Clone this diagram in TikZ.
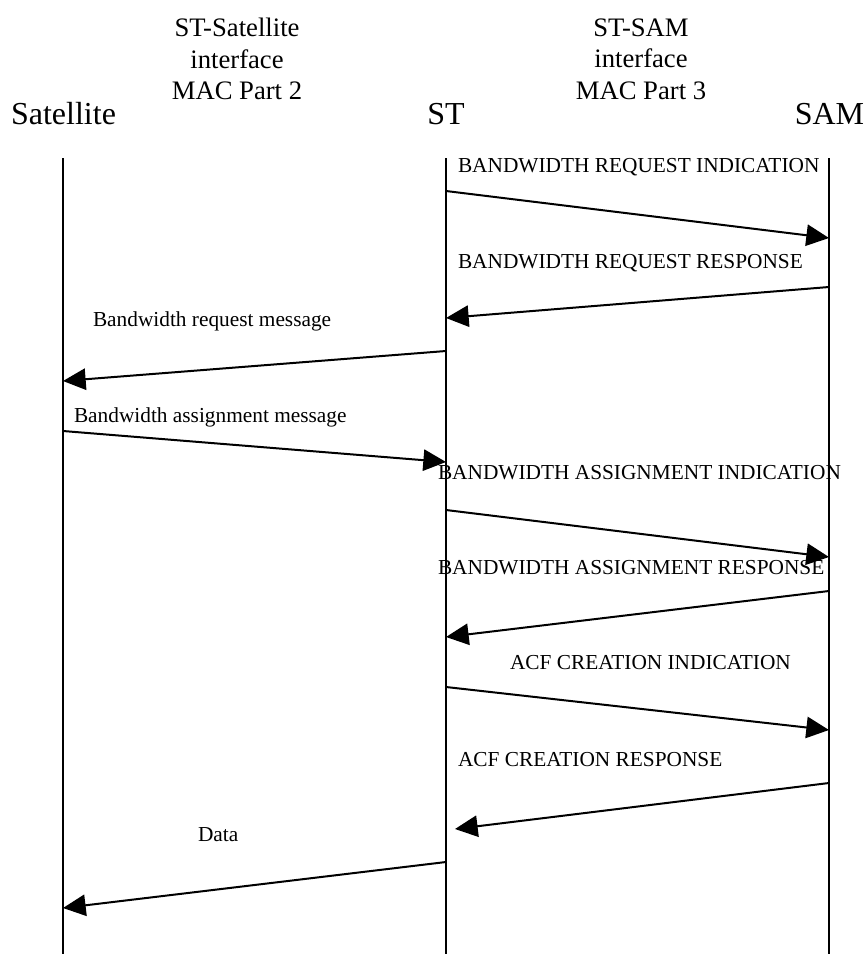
\documentclass[tikz,border=0pt]{standalone}
\usepackage{fontspec}
\setmainfont{Liberation Serif}
\usetikzlibrary{arrows.meta}
\tikzset{every picture/.style={line width=1.5pt}}
\tikzset{msg/.style={-{Triangle[length=17pt,width=16pt]}},
         lbl/.style={anchor=west,inner sep=0pt,font=\fontsize{16}{19}\selectfont},
         party/.style={anchor=base,inner sep=0pt,font=\fontsize{24}{28}\selectfont},
         iface/.style={align=center,inner sep=0pt,font=\fontsize{20}{23.6}\selectfont}}

\begin{document}
\begin{tikzpicture}[x=0.75pt,y=-0.75pt]
\useasboundingbox (0,0) rectangle (866,954);
\node[iface] (if2) at (237,59) {ST-Satellite\\interface\\MAC Part 2};
\node[iface] (if3) at (641,59) {ST-SAM\\interface\\MAC Part 3};
\node[party] (sat) at (63.5,124) {Satellite};
\node[party] (st) at (446,124) {ST};
\node[party] (sam) at (829.5,124) {SAM};
%
\coordinate (sat0) at (63,158);
\coordinate (sat1) at (63,954);
\coordinate (st0) at (446,158);
\coordinate (st1) at (446,954);
\coordinate (sam0) at (829,158);
\coordinate (sam1) at (829,954);
\draw (sat0) -- (sat1);
\draw (st0) -- (st1);
\draw (sam0) -- (sam1);
%
\coordinate (m1a) at (446,191);
\coordinate (m1b) at (829,238);
\coordinate (m2a) at (829,287);
\coordinate (m2b) at (446,318);
\coordinate (m3a) at (446,351);
\coordinate (m3b) at (63,381);
\coordinate (m4a) at (63,431);
\coordinate (m4b) at (446,462);
\coordinate (m5a) at (446,510);
\coordinate (m5b) at (829,557);
\coordinate (m6a) at (829,591);
\coordinate (m6b) at (446,637);
\coordinate (m7a) at (446,687);
\coordinate (m7b) at (829,730);
\coordinate (m8a) at (829,783);
\coordinate (m8b) at (455,829);
\coordinate (m9a) at (446,862);
\coordinate (m9b) at (63,908);
\draw [msg] (m1a) -- (m1b);
\draw [msg] (m2a) -- (m2b);
\draw [msg] (m3a) -- (m3b);
\draw [msg] (m4a) -- (m4b);
\draw [msg] (m5a) -- (m5b);
\draw [msg] (m6a) -- (m6b);
\draw [msg] (m7a) -- (m7b);
\draw [msg] (m8a) -- (m8b);
\draw [msg] (m9a) -- (m9b);
%
\node[lbl] (l1) at (457,167) {BANDWIDTH REQUEST INDICATION};
\node[lbl] (l2) at (457,263) {BANDWIDTH REQUEST RESPONSE};
\node[lbl] (l3) at (92,321) {Bandwidth request message};
\node[lbl] (l4) at (73,417) {Bandwidth assignment message};
\node[lbl] (l5) at (437,473) {BANDWIDTH ASSIGNMENT INDICATION};
\node[lbl] (l6) at (437,568) {BANDWIDTH ASSIGNMENT RESPONSE};
\node[lbl] (l7) at (509,663) {ACF CREATION INDICATION};
\node[lbl] (l8) at (457,760) {ACF CREATION RESPONSE};
\node[lbl] (l9) at (197,835) {Data};
\end{tikzpicture}
\end{document}
